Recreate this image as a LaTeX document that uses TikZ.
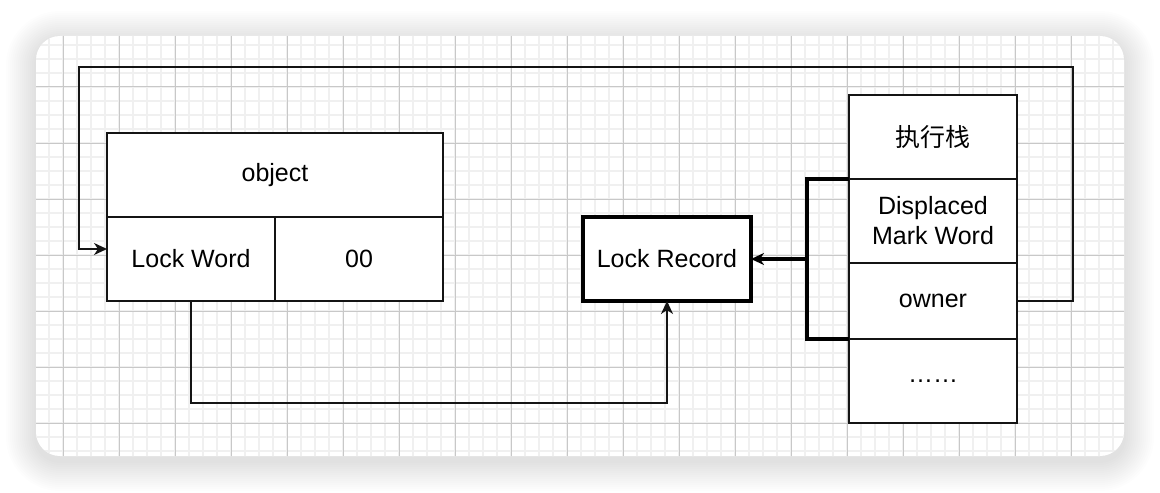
\documentclass[tikz,border=0pt]{standalone}
\usepackage{fontspec}
\setmainfont{Liberation Sans}
\newfontfamily\cjkfont{Noto Sans CJK SC}
\usetikzlibrary{arrows.meta,positioning}
\definecolor{gridMinor}{RGB}{240,240,240}
\definecolor{gridMajor}{RGB}{200,200,200}
\definecolor{inkDark}{RGB}{20,20,20}

\begin{document}
\begin{tikzpicture}[
  x=0.5pt, y=-0.5pt,
  cell/.style={
    draw=inkDark,
    fill=white,
    line width=1pt,
    inner sep=0pt,
    outer sep=0pt,
    minimum width=84pt,
    minimum height=42pt,
    align=center,
    font=\fontsize{12.5}{15}\selectfont
  },
  thickline/.style={line width=1.6pt,draw=black},
  link/.style={line width=1pt,inkDark,-{Stealth[length=6.5pt,width=6pt,inset=2pt]}}
]
  \useasboundingbox (0,0) rectangle (1160,492);

  % panel shadow and grid
  \foreach \s in {2,4,...,30}{
    \pgfmathsetmacro\rr{12+\s/2}
    \fill[black,opacity=0.007,rounded corners=\rr pt]
      (36-\s,36-\s+5) rectangle (1124+\s,456+\s+5);
  }
  \fill[white,rounded corners=12pt] (36,36) rectangle (1124,456);
  \begin{scope}
    \clip[rounded corners=12pt] (36,36) rectangle (1124,456);
    \foreach \gx in {35,49,...,1123}
      \draw[gridMinor,line width=0.6pt] (\gx,30) -- (\gx,460);
    \foreach \gy in {45,59,...,451}
      \draw[gridMinor,line width=0.6pt] (30,\gy) -- (1130,\gy);
    \foreach \gx in {63,119,...,1071}
      \draw[gridMajor,line width=0.5pt] (\gx,30) -- (\gx,460);
    \foreach \gy in {87,143,...,423}
      \draw[gridMajor,line width=0.5pt] (30,\gy) -- (1130,\gy);
  \end{scope}

  % object header
  \node[cell,minimum width=168pt] (obj) at (275,175) {object};
  \node[cell,anchor=north west] (lw) at (obj.south west) {Lock Word};
  \node[cell,right=0pt of lw] (bits) {00};

  % lock record
  \node[cell,thickline] (lr) at (667,259) {Lock Record};

  % execution stack
  \node[cell] (stk) at (933,137) {\cjkfont 执行栈};
  \node[cell,below=0pt of stk] (dmw) {Displaced\\Mark Word};
  \node[cell,below=0pt of dmw,minimum height=38pt] (own) {owner};
  \node[cell,below=0pt of own] (etc) {……};

  \draw[link] (own.east) -| (1073,67) -| (79,249) -- ([yshift=5pt]lw.west);
  \draw[link] (lw.south) |- (667,403) -| (lr.south);
  \draw[thickline] (dmw.north west) -- ++(-42,0) coordinate (brk) |- (own.south west);
  \draw[thickline,-{Stealth[length=6.5pt,width=6pt,inset=2pt]}] (brk |- lr.east) -- (lr.east);
\end{tikzpicture}
\end{document}
